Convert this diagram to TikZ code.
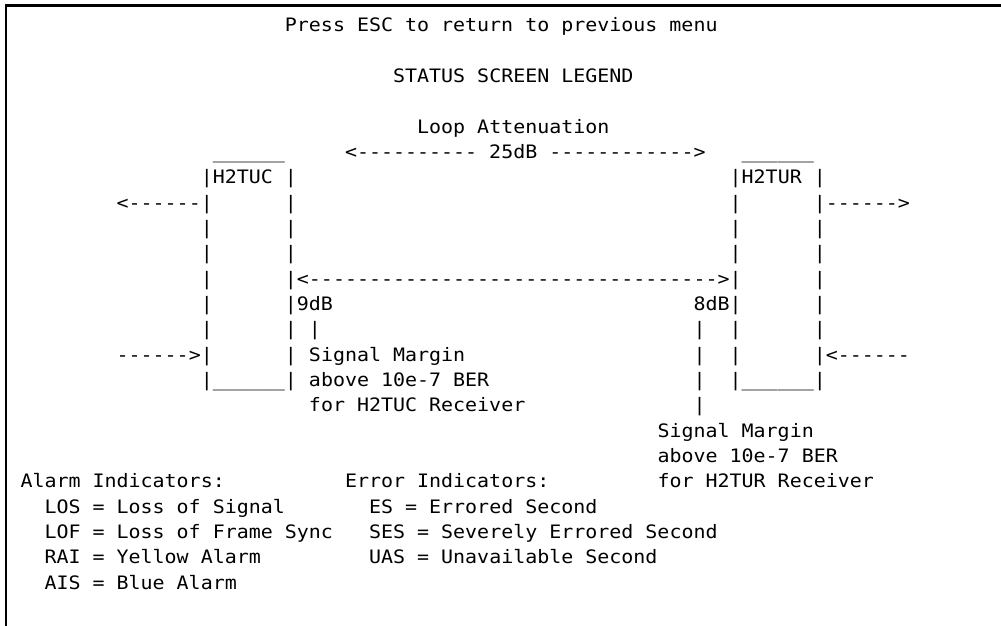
\documentclass[tikz,border=0pt]{standalone}
\usepackage{fontspec}
\setmonofont[FakeStretch=1.079,Ligatures=TeXOff]{DejaVu Sans Mono}
\newcommand\scr[4]{\node[txt] (#1) at ({20.5+12.02*#3},{32+25.32*#2}) {#4};}
\begin{document}
\begin{tikzpicture}[x=1pt,y=-1pt,
  txt/.style={anchor=base west,inner sep=0pt,outer sep=0pt,
    font=\ttfamily\fontsize{18.5pt}{22pt}\selectfont\frenchspacing}]
\fill[white] (0,0) rectangle (1001,626);
\useasboundingbox (0,0) rectangle (1001,626);
% screen frame (left and top edges)
\draw[line width=2.4pt] (5.9,626) -- (5.9,5.7) -- (1001,5.7);
% header
\scr{r0}{0}{22}{Press ESC to return to previous menu}
\scr{r2}{2}{31}{STATUS SCREEN LEGEND}
\scr{r4}{4}{33}{Loop Attenuation}
\scr{r5a}{5}{16}{\_\_\_\_\_\_}
\scr{r5b}{5}{27}{<---------- 25dB ------------>}
\scr{r5c}{5}{60}{\_\_\_\_\_\_}
% boxes
\scr{r6a}{6}{15}{|H2TUC |}
\scr{r6b}{6}{59}{|H2TUR |}
\scr{r7a}{7}{8}{<------|}
\scr{r7b}{7}{22}{|}
\scr{r7c}{7}{59}{|}
\scr{r7d}{7}{66}{|------>}
\scr{r8a}{8}{15}{|}
\scr{r8b}{8}{22}{|}
\scr{r8c}{8}{59}{|}
\scr{r8d}{8}{66}{|}
\scr{r9a}{9}{15}{|}
\scr{r9b}{9}{22}{|}
\scr{r9c}{9}{59}{|}
\scr{r9d}{9}{66}{|}
\scr{r10a}{10}{15}{|}
\scr{r10b}{10}{22}{|<---------------------------------->|}
\scr{r10c}{10}{66}{|}
\scr{r11a}{11}{15}{|}
\scr{r11b}{11}{22}{|9dB}
\scr{r11c}{11}{56}{8dB|}
\scr{r11d}{11}{66}{|}
\scr{r12a}{12}{15}{|}
\scr{r12b}{12}{22}{|}
\scr{r12c}{12}{24}{|}
\scr{r12d}{12}{56}{|}
\scr{r12e}{12}{59}{|}
\scr{r12f}{12}{66}{|}
\scr{r13a}{13}{8}{------>|}
\scr{r13b}{13}{22}{|}
\scr{r13c}{13}{24}{Signal Margin}
\scr{r13d}{13}{56}{|}
\scr{r13e}{13}{59}{|}
\scr{r13f}{13}{66}{|<------}
\scr{r14a}{14}{15}{|\_\_\_\_\_\_|}
\scr{r14b}{14}{24}{above 10e-7 BER}
\scr{r14c}{14}{56}{|}
\scr{r14d}{14}{59}{|\_\_\_\_\_\_|}
\scr{r15a}{15}{24}{for H2TUC Receiver}
\scr{r15b}{15}{56}{|}
\scr{r16a}{16}{53}{Signal Margin}
\scr{r17a}{17}{53}{above 10e-7 BER}
% legend
\scr{r18a}{18}{0}{Alarm Indicators:}
\scr{r18b}{18}{27}{Error Indicators:}
\scr{r18c}{18}{53}{for H2TUR Receiver}
\scr{r19a}{19}{2}{LOS = Loss of Signal}
\scr{r19b}{19}{29}{ES = Errored Second}
\scr{r20a}{20}{2}{LOF = Loss of Frame Sync}
\scr{r20b}{20}{29}{SES = Severely Errored Second}
\scr{r21a}{21}{2}{RAI = Yellow Alarm}
\scr{r21b}{21}{29}{UAS = Unavailable Second}
\scr{r22a}{22}{2}{AIS = Blue Alarm}
\end{tikzpicture}
\end{document}
